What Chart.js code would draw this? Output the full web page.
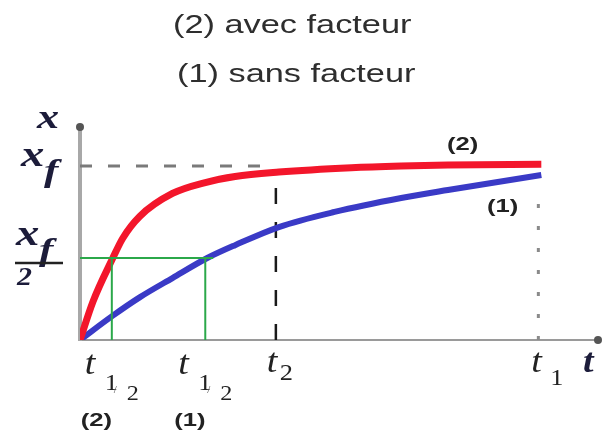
<!DOCTYPE html>
<html>
<head>
<meta charset="utf-8">
<script src="https://cdn.jsdelivr.net/npm/chart.js@4/dist/chart.umd.min.js"></script>
<style>
  html, body { margin: 0; padding: 0; background: #fff; }
  #wrap { width: 602px; height: 435px; position: relative; }
</style>
</head>
<body>
<div id="wrap"><canvas id="cv"></canvas></div>
<script>
// temps (unités arbitraires) et avancement x / xf
const tRed  = [0, 13, 33, 43, 60, 93, 126, 156, 200, 273, 323, 370, 464];
const xRed  = [0, 0.22, 0.471, 0.585, 0.71, 0.842, 0.905, 0.94, 0.965, 0.99, 1.0, 1.006, 1.01];
const tBlue = [0, 33, 60, 93, 128, 156, 200, 256, 323, 370, 464];
const xBlue = [0, 0.14, 0.245, 0.356, 0.471, 0.545, 0.649, 0.736, 0.816, 0.862, 0.948];

const xf = 1;
const xHalf = 0.471;            // niveau xf/2 tracé en vert
const tHalf2 = 32;              // t1/2 avec facteur
const tHalf1 = 126;             // t1/2 sans facteur
const t2 = 197;
const t1 = 461;
const tMax = 521;
const xMax = 1.224;

const pts = (ts, xs) => ts.map((t, i) => ({ x: t, y: xs[i] }));

const guide = (data, color, width, dash, order) => ({
  data, borderColor: color, borderWidth: width, borderDash: dash,
  pointRadius: 0, tension: 0, fill: false, order
});

// texte étiré horizontalement
function txt(ctx, s, x, y, font, color, sx) {
  ctx.save();
  ctx.font = font;
  ctx.fillStyle = color;
  ctx.textBaseline = "alphabetic";
  ctx.textAlign = "left";
  ctx.translate(x, y);
  ctx.scale(sx || 1, 1);
  ctx.fillText(s, 0, 0);
  ctx.restore();
}

const SERIF = '"Liberation Serif", "DejaVu Serif", serif';
const SANS = '"Liberation Sans", Arial, sans-serif';

const labels = {
  id: "labels",
  afterDraw(chart) {
    const ctx = chart.ctx;
    const sx = chart.scales.x, sy = chart.scales.y;
    const px = v => sx.getPixelForValue(v);
    const py = v => sy.getPixelForValue(v);
    const ink = "#1c1c3a";

    // titres
    txt(ctx, "(2) avec facteur", 173, 33, "26px " + SANS, "#2e2e2e", 1.32);
    txt(ctx, "(1) sans facteur", 177, 82, "26px " + SANS, "#2e2e2e", 1.32);

    // flèches des axes
    ctx.save();
    ctx.fillStyle = "#555";
    ctx.beginPath(); ctx.arc(px(0), py(xMax), 4, 0, 2 * Math.PI); ctx.fill();
    ctx.beginPath(); ctx.arc(px(tMax), py(0), 4, 0, 2 * Math.PI); ctx.fill();
    ctx.restore();

    // axe des ordonnées
    txt(ctx, "x", 37, 128, "bold italic 34px " + SERIF, ink, 1.3);
    txt(ctx, "x", 21, py(xf), "bold italic 36px " + SERIF, ink, 1.3);
    txt(ctx, "f", 44, py(xf) + 15, "bold italic 32px " + SERIF, ink, 1.35);
    txt(ctx, "x", 16, py(xHalf) - 13, "bold italic 36px " + SERIF, ink, 1.3);
    txt(ctx, "f", 39, py(xHalf) + 2, "bold italic 32px " + SERIF, ink, 1.35);
    ctx.save();
    ctx.strokeStyle = "#222"; ctx.lineWidth = 2.5;
    ctx.beginPath(); ctx.moveTo(15, py(xHalf) + 5); ctx.lineTo(63, py(xHalf) + 5); ctx.stroke();
    ctx.restore();
    txt(ctx, "2", 17, py(xHalf) + 27, "bold italic 26px " + SERIF, ink, 1.15);

    // axe des temps
    const base = py(0);
    const tFont = "italic 33px " + SERIF;
    [[tHalf2, "(2)"], [tHalf1, "(1)"]].forEach(([t, tag]) => {
      const x = px(t);
      txt(ctx, "t", x - 27, base + 34, tFont, "#222", 1.15);
      txt(ctx, "1", x - 7, base + 50, "24px " + SERIF, "#222", 1.1);
      txt(ctx, "/", x + 2, base + 53, "11px " + SERIF, "#444", 1);
      txt(ctx, "2", x + 15, base + 60, "22px " + SERIF, "#222", 1.1);
      txt(ctx, tag, x - 31, base + 86, "bold 19px " + SANS, "#222", 1.35);
    });
    txt(ctx, "t", px(t2) - 9, base + 32, tFont, "#222", 1.15);
    txt(ctx, "2", px(t2) + 4, base + 40, "24px " + SERIF, "#222", 1.1);
    txt(ctx, "t", px(t1) - 7, base + 32, tFont, "#222", 1.15);
    txt(ctx, "1", px(t1) + 12, base + 45, "24px " + SERIF, "#222", 1.1);
    txt(ctx, "t", 583, base + 32, "bold italic 33px " + SERIF, ink, 1.15);

    // repères des courbes
    txt(ctx, "(2)", 447, 150, "bold 19px " + SANS, "#222", 1.35);
    txt(ctx, "(1)", 487, 212, "bold 19px " + SANS, "#222", 1.35);
  }
};

new Chart(document.getElementById("cv"), {
  type: "line",
  plugins: [labels],
  data: {
    datasets: [
      { data: pts(tRed, xRed), borderColor: "#f3162b", borderWidth: 7,
        pointRadius: 0, cubicInterpolationMode: "monotone", fill: false, order: 1 },
      { data: pts(tBlue, xBlue), borderColor: "#3a3ac6", borderWidth: 6,
        pointRadius: 0, cubicInterpolationMode: "monotone", fill: false, order: 2 },
      guide([{ x: 0, y: xHalf }, { x: 134, y: xHalf }], "#2ba84a", 2, [], 0),
      guide([{ x: tHalf2, y: 0 }, { x: tHalf2, y: xHalf }], "#2ba84a", 2, [], 0),
      guide([{ x: tHalf1, y: 0 }, { x: tHalf1, y: xHalf }], "#2ba84a", 2, [], 0),
      guide([{ x: 0, y: xf }, { x: t2, y: xf }], "#7a7a7a", 3, [12, 16], 3),
      guide([{ x: t2, y: 0 }, { x: t2, y: 0.975 }], "#1a1a1a", 2.5, [16, 18], 3),
      guide([{ x: t1, y: 0 }, { x: t1, y: 0.87 }], "#8a8a8a", 3, [4, 18], 3)
    ]
  },
  options: {
    responsive: true,
    maintainAspectRatio: false,
    animation: false,
    layout: { padding: { left: 72, right: 4, top: 127, bottom: 87 } },
    plugins: { legend: { display: false }, tooltip: { enabled: false }, title: { display: false } },
    scales: {
      x: {
        type: "linear", min: 0, max: tMax,
        grid: { display: false },
        ticks: { display: false },
        border: { color: "#9a9a9a", width: 2 }
      },
      y: {
        min: 0, max: xMax,
        grid: { display: false },
        ticks: { display: false },
        border: { color: "#a8a8a8", width: 4 }
      }
    }
  }
});
</script>
</body>
</html>
